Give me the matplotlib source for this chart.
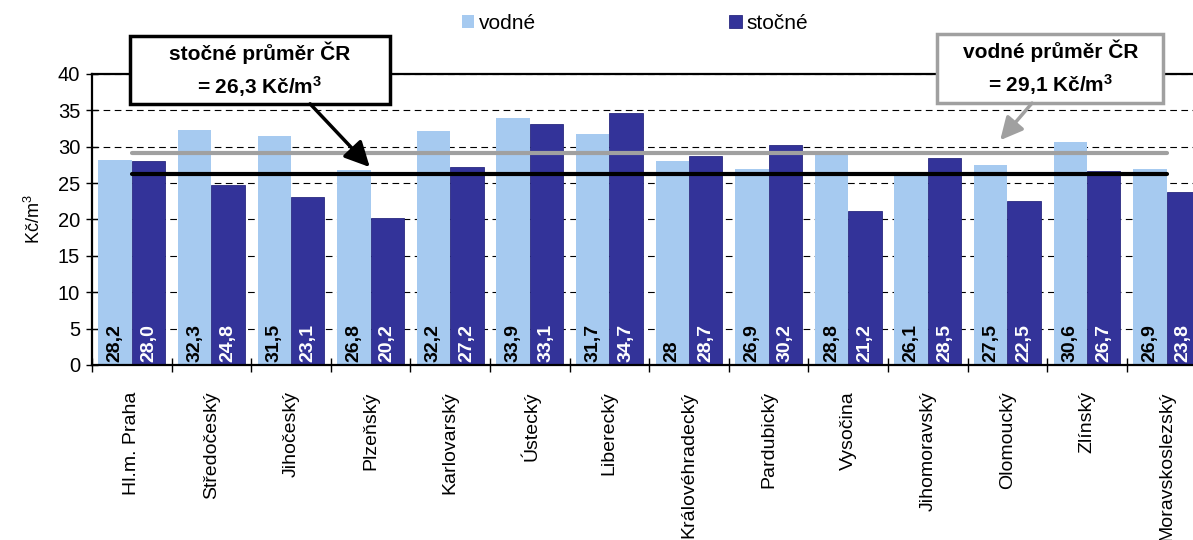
import numpy as np
import matplotlib
matplotlib.use('agg')
import matplotlib.pyplot as plt
from matplotlib.patches import Rectangle

plt.rcParams['font.family'] = ['Liberation Sans', 'DejaVu Sans']
plt.rcParams['mathtext.default'] = 'regular'

# data
kraje = ['Hl.m. Praha', 'Středočeský', 'Jihočeský', 'Plzeňský', 'Karlovarský',
         'Ústecký', 'Liberecký', 'Královéhradecký', 'Pardubický', 'Vysočina',
         'Jihomoravský', 'Olomoucký', 'Zlínský', 'Moravskoslezský']
vodne = [28.2, 32.3, 31.5, 26.8, 32.2, 33.9, 31.7, 28.0, 26.9, 28.8, 26.1, 27.5, 30.6, 26.9]
stocne = [28.0, 24.8, 23.1, 20.2, 27.2, 33.1, 34.7, 28.7, 30.2, 21.2, 28.5, 22.5, 26.7, 23.8]
vodne_txt = ['28,2', '32,3', '31,5', '26,8', '32,2', '33,9', '31,7', '28', '26,9',
             '28,8', '26,1', '27,5', '30,6', '26,9']
stocne_txt = ['28,0', '24,8', '23,1', '20,2', '27,2', '33,1', '34,7', '28,7', '30,2',
              '21,2', '28,5', '22,5', '26,7', '23,8']
vodne_prumer = 29.1
stocne_prumer = 26.3

c_light = '#A6CAF0'
c_dark = '#333399'
c_gray = '#A0A0A0'

fig = plt.figure(figsize=(11.93, 5.4), dpi=100)
ax = fig.add_axes([0.0771, 0.3241, 0.9341, 0.5389])

x = np.arange(len(kraje))
w = 0.42
ax.bar(x - 0.21, vodne, w, color=c_light, zorder=2, label='vodné')
ax.bar(x + 0.21, stocne, w, color=c_dark, edgecolor='#2a2a80', linewidth=0.6,
       zorder=2, label='stočné')

for i in range(len(kraje)):
    ax.text(x[i] - 0.21, 0.4, vodne_txt[i], rotation=90, ha='center', va='bottom',
            fontsize=14, fontweight='bold', color='black', zorder=4)
    ax.text(x[i] + 0.21, 0.4, stocne_txt[i], rotation=90, ha='center', va='bottom',
            fontsize=14, fontweight='bold', color='white', zorder=4)

# prumery CR
ax.plot([0, 13], [vodne_prumer] * 2, color=c_gray, lw=3, solid_capstyle='round', zorder=5)
ax.plot([0, 13], [stocne_prumer] * 2, color='black', lw=3, solid_capstyle='round', zorder=5)

ax.set_xlim(-0.5, 13.5)
ax.set_ylim(0, 40)
ax.set_yticks(np.arange(0, 41, 5))
ax.yaxis.grid(True, color='black', linestyle=(0, (6, 4)), linewidth=0.8, zorder=0)
ax.set_axisbelow(True)

ax.set_xticks(np.arange(-0.5, 14, 1))
ax.set_xticklabels([])
ax.set_xticks(x, minor=True)
ax.set_xticklabels(kraje, minor=True, rotation=90, ha='center', va='top', fontsize=14)
ax.tick_params(axis='x', which='minor', length=0, pad=19)
ax.tick_params(axis='x', which='major', direction='inout', length=10, width=1)
ax.tick_params(axis='y', direction='inout', length=9, width=1, labelsize=14.5, pad=4)

for s in ['left', 'bottom', 'top']:
    ax.spines[s].set_linewidth(1.6)
ax.spines['right'].set_visible(False)

ax.set_ylabel('Kč/m$^{3}$', fontsize=13, labelpad=10)

# popisky s prumery
box1 = Rectangle((-0.02, 35.9), 3.26, 9.3, facecolor='white', edgecolor='black',
                 lw=2.5, clip_on=False, zorder=6)
ax.add_patch(box1)
ax.text(1.61, 40.55, 'stočné průměr ČR\n= 26,3 Kč/m$^{3}$', ha='center', va='center',
        fontsize=15, fontweight='bold', linespacing=1.5, zorder=7, clip_on=False)
ax.annotate('', xy=(2.99, 27.2), xytext=(2.24, 35.9),
            arrowprops=dict(arrowstyle='-|>', mutation_scale=38, lw=2.5, color='black',
                            shrinkA=0, shrinkB=0), zorder=7, annotation_clip=False)

box2 = Rectangle((10.12, 36.0), 2.83, 9.5, facecolor='white', edgecolor=c_gray,
                 lw=2.5, clip_on=False, zorder=6)
ax.add_patch(box2)
ax.text(11.54, 40.75, 'vodné průměr ČR\n= 29,1 Kč/m$^{3}$', ha='center', va='center',
        fontsize=15, fontweight='bold', linespacing=1.5, zorder=7, clip_on=False)
ax.annotate('', xy=(10.91, 30.9), xytext=(11.31, 36.0),
            arrowprops=dict(arrowstyle='-|>', mutation_scale=34, lw=2.5, color=c_gray,
                            shrinkA=0, shrinkB=0), zorder=7, annotation_clip=False)

fig.legend(loc='center', bbox_to_anchor=(0.532, 0.957), ncol=2, frameon=False,
           fontsize=15, handlelength=0.6, handleheight=0.6, handletextpad=0.2,
           columnspacing=9.3)

fig.savefig('out.png', dpi=100)
